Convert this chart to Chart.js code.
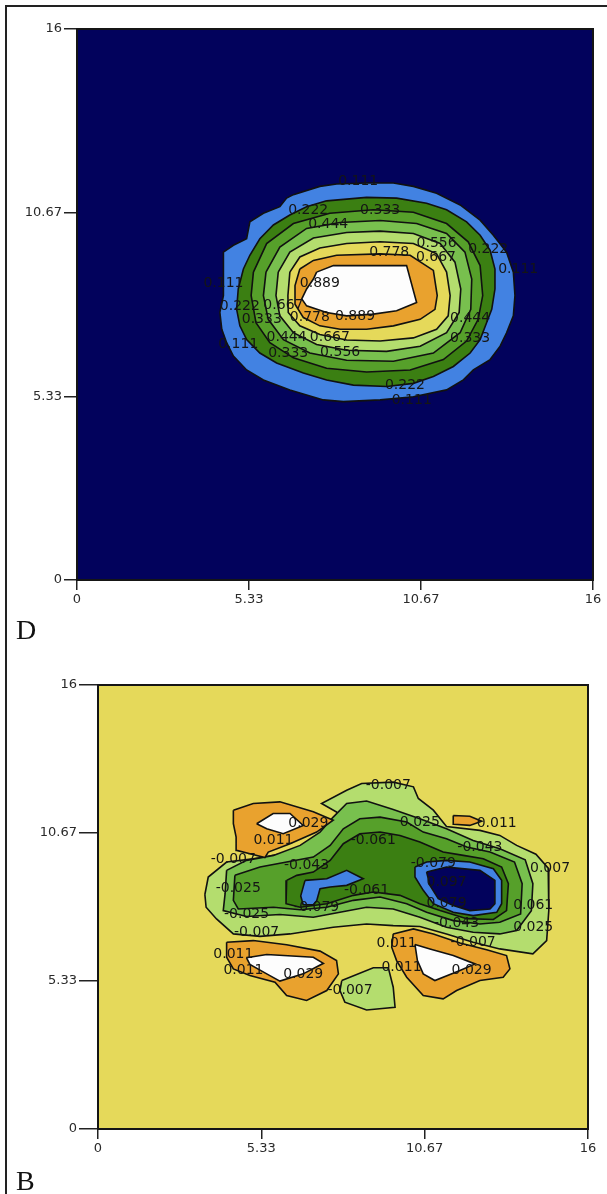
<!DOCTYPE html>
<html>
<head>
<meta charset="utf-8">
<script src="https://cdn.jsdelivr.net/npm/chart.js@4.4.0/dist/chart.umd.min.js"></script>
<style>
  body { margin: 0; background: #fff; width: 607px; height: 1194px; position: relative; overflow: hidden; }
  .frame { position: absolute; left: 5px; top: 5px; width: 620px; height: 1220px; border-left: 2px solid #222; border-top: 2px solid #222; }
  canvas { position: absolute; left: 0; }
  .tag { position: absolute; left: 16px; font: 28px "Liberation Serif", serif; color: #111; line-height: 32px; }
</style>
</head>
<body>
<div class="frame"></div>
<canvas id="chartD" width="607" height="620" style="top:0"></canvas>
<canvas id="chartB" width="607" height="529" style="top:640px"></canvas>
<div class="tag" style="top:614px">D</div>
<div class="tag" style="top:1165px">B</div>
<script>
// axis ticks (both panels)
const tickValues = [0, 5.333, 10.667, 16];
const tickLabels = ['0', '5.33', '10.67', '16'];

// panel D contour boundaries [x, y]
const dRing111 = [[6.71,11.19],[7.53,11.43],[8.05,11.50],[8.98,11.53],[9.81,11.53],[10.43,11.43],[11.15,11.23],[11.88,10.89],[12.50,10.45],[12.91,10.01],[13.32,9.52],[13.53,8.94],[13.58,8.26],[13.53,7.67],[13.32,7.18],[13.12,6.79],[12.81,6.40],[12.29,6.10],[11.98,5.81],[11.46,5.52],[10.43,5.32],[9.40,5.23],[8.26,5.18],[7.64,5.23],[6.60,5.52],[5.78,5.81],[5.26,6.10],[4.85,6.50],[4.64,6.89],[4.49,7.28],[4.43,7.77],[4.54,8.26],[4.54,8.74],[4.54,9.52],[4.85,9.72],[5.26,9.91],[5.36,10.40],[5.78,10.65],[6.29,10.84],[6.50,11.09]];
const dRing222 = [[7.74,11.01],[8.98,11.11],[9.91,11.09],[10.84,10.94],[11.46,10.75],[12.08,10.40],[12.50,10.01],[12.81,9.57],[12.96,9.03],[12.96,8.45],[12.86,7.86],[12.70,7.47],[12.50,6.98],[12.19,6.59],[11.67,6.20],[11.05,5.91],[10.43,5.71],[9.60,5.62],[8.57,5.66],[7.74,5.81],[7.02,6.01],[6.19,6.30],[5.67,6.59],[5.26,6.98],[5.05,7.38],[4.95,7.86],[5.00,8.45],[5.16,9.03],[5.36,9.43],[5.67,9.91],[6.09,10.31],[6.60,10.60],[7.12,10.84]];
const dRing333 = [[5.47,8.94],[5.88,9.77],[6.71,10.35],[7.84,10.65],[9.19,10.75],[10.43,10.68],[11.46,10.35],[12.13,9.82],[12.50,9.13],[12.58,8.26],[12.44,7.57],[12.08,6.94],[11.36,6.40],[10.33,6.10],[8.98,6.04],[7.74,6.15],[6.71,6.45],[5.98,6.89],[5.55,7.47],[5.40,8.26]];
const dRing444 = [[5.86,8.94],[6.29,9.67],[7.12,10.21],[8.16,10.38],[9.40,10.44],[10.53,10.35],[11.46,10.06],[12.03,9.52],[12.24,8.74],[12.21,7.86],[11.88,7.18],[11.05,6.59],[9.81,6.35],[8.36,6.38],[7.22,6.59],[6.40,6.98],[5.93,7.57],[5.78,8.26]];
const dRing556 = [[6.24,8.94],[6.60,9.52],[7.33,9.93],[8.36,10.09],[9.40,10.13],[10.43,10.06],[11.26,9.77],[11.72,9.23],[11.90,8.45],[11.85,7.77],[11.46,7.18],[10.64,6.79],[9.60,6.64],[8.36,6.67],[7.43,6.84],[6.71,7.18],[6.29,7.67],[6.17,8.26]];
const dRing667 = [[6.60,8.94],[6.91,9.38],[7.53,9.64],[8.36,9.77],[9.40,9.82],[10.43,9.77],[11.15,9.47],[11.46,8.94],[11.57,8.26],[11.51,7.67],[11.15,7.28],[10.43,7.03],[9.40,6.94],[8.36,6.97],[7.53,7.13],[6.91,7.38],[6.55,7.77],[6.54,8.26]];
const dRing778 = [[6.91,9.03],[7.33,9.28],[8.05,9.43],[9.40,9.47],[10.33,9.43],[11.05,8.99],[11.17,8.26],[11.10,7.86],[10.64,7.57],[9.81,7.38],[8.98,7.28],[8.16,7.28],[7.53,7.38],[7.02,7.62],[6.76,8.01],[6.76,8.55]];
const dRing889 = [[7.43,8.94],[7.95,9.13],[10.22,9.13],[10.53,8.06],[9.91,7.82],[9.19,7.72],[8.36,7.67],[7.74,7.77],[7.12,7.96],[6.97,8.16],[7.12,8.45],[7.33,8.74]];

const dLabels = [
  ['0.111', 8.72, 11.58], ['0.222', 7.17, 10.72], ['0.333', 9.40, 10.72], ['0.444', 7.79, 10.33],
  ['0.556', 11.15, 9.77], ['0.222', 12.75, 9.60], ['0.778', 9.68, 9.50], ['0.667', 11.13, 9.38],
  ['0.111', 13.68, 9.02], ['0.111', 4.54, 8.60], ['0.889', 7.53, 8.62], ['0.222', 5.05, 7.94],
  ['0.667', 6.40, 7.98], ['0.333', 5.73, 7.57], ['0.778', 7.22, 7.62], ['0.889', 8.62, 7.65],
  ['0.444', 12.19, 7.59], ['0.333', 12.19, 7.01], ['0.444', 6.50, 7.06], ['0.667', 7.84, 7.06],
  ['0.111', 5.00, 6.84], ['0.333', 6.55, 6.59], ['0.556', 8.16, 6.61], ['0.222', 10.17, 5.66],
  ['0.111', 10.38, 5.23]
];

// panel B contour boundaries [x, y]
const bRingM007 = [[3.49,8.45],[3.60,9.08],[4.20,9.62],[5.40,9.78],[6.49,10.04],[7.36,10.46],[7.85,10.94],[7.79,11.42],[7.30,11.73],[8.12,12.21],[8.61,12.45],[9.64,12.50],[10.30,12.33],[10.46,11.91],[10.95,11.49],[11.38,10.90],[12.47,10.76],[13.12,10.58],[13.67,10.22],[14.30,9.90],[14.70,9.40],[14.72,7.87],[14.65,6.79],[14.20,6.31],[13.12,6.49],[12.25,6.73],[11.38,7.03],[10.51,7.30],[9.64,7.33],[8.77,7.39],[7.68,7.27],[6.27,7.03],[5.29,6.94],[4.42,7.03],[3.87,7.57],[3.53,7.99]];
const bRingM007b = [[7.96,5.35],[8.99,5.81],[9.48,5.81],[9.64,5.11],[9.70,4.39],[8.77,4.29],[8.06,4.57],[7.90,4.99]];
const bRingM025 = [[4.20,9.32],[4.15,8.48],[4.09,7.87],[4.85,7.66],[5.94,7.73],[7.03,7.63],[7.90,7.81],[8.77,7.99],[9.64,7.93],[10.51,7.63],[11.38,7.27],[12.25,7.09],[13.12,7.03],[13.67,7.15],[14.15,7.87],[14.20,8.84],[13.95,9.70],[13.12,10.10],[12.25,10.40],[11.38,10.82],[10.51,11.18],[9.64,11.51],[8.77,11.82],[8.12,11.73],[7.68,11.24],[7.25,10.70],[6.60,10.22],[5.73,9.86],[4.85,9.68]];
const bRingM043 = [[4.47,9.14],[4.42,8.24],[4.58,7.93],[5.73,7.99],[6.60,7.90],[7.47,7.99],[8.34,8.24],[9.21,8.36],[10.08,8.12],[10.73,7.81],[11.60,7.51],[12.47,7.39],[13.12,7.45],[13.80,7.75],[13.85,8.84],[13.60,9.62],[12.80,9.98],[12.04,10.16],[11.38,10.46],[10.62,10.70],[10.08,11.06],[9.21,11.24],[8.55,11.18],[8.01,10.82],[7.58,10.22],[7.03,9.80],[6.16,9.62],[5.29,9.44]];
const bRingM061 = [[6.16,8.96],[6.14,8.12],[6.60,7.99],[7.47,8.12],[8.34,8.42],[8.99,8.54],[9.86,8.42],[10.51,8.12],[11.17,7.87],[12.04,7.58],[12.91,7.55],[13.34,7.87],[13.40,8.84],[13.18,9.44],[12.58,9.74],[11.93,9.86],[11.27,9.98],[10.51,10.34],[9.86,10.58],[9.21,10.70],[8.55,10.64],[8.01,10.28],[7.58,9.68],[7.03,9.26],[6.49,9.14]];
const bRingM079a = [[6.76,8.96],[7.47,9.02],[8.12,9.32],[8.66,9.02],[8.12,8.78],[7.58,8.72],[7.25,8.66],[7.14,8.22],[7.03,8.08],[6.70,8.08],[6.62,8.40]];
const bRingM079b = [[10.35,9.44],[10.73,9.62],[11.38,9.68],[12.14,9.62],[12.91,9.38],[13.18,8.96],[13.18,8.12],[13.02,7.81],[12.25,7.69],[11.60,7.81],[10.95,8.12],[10.62,8.60],[10.35,9.08]];
const bRingM097 = [[10.73,9.26],[11.38,9.44],[12.47,9.32],[12.96,8.96],[12.96,8.12],[12.80,7.93],[12.14,7.87],[11.60,8.05],[11.11,8.30],[10.84,8.78]];
const bRing011a = [[4.42,11.49],[5.07,11.73],[5.94,11.79],[7.03,11.43],[7.68,11.13],[7.14,10.70],[6.27,10.28],[5.56,9.98],[5.45,9.78],[4.96,9.92],[4.53,10.04],[4.51,10.52],[4.42,11.00]];
const bRing011b = [[11.60,11.30],[12.14,11.27],[12.53,11.09],[12.14,10.94],[11.62,10.98]];
const bRing011c = [[4.20,6.73],[5.07,6.79],[6.16,6.64],[7.25,6.41],[7.79,6.07],[7.85,5.59],[7.47,4.99],[6.81,4.63],[6.16,4.81],[5.78,5.29],[4.96,5.53],[4.42,5.77],[4.20,6.19]];
const bRing011d = [[9.64,7.03],[10.30,7.21],[10.95,7.03],[11.82,6.70],[12.69,6.46],[13.34,6.25],[13.45,5.77],[13.23,5.47],[12.47,5.35],[11.71,4.99],[11.27,4.69],[10.62,4.81],[10.08,5.47],[9.75,6.07],[9.59,6.55]];
const bRing029a = [[5.18,11.00],[5.72,11.37],[6.27,11.37],[6.70,10.94],[6.05,10.64],[5.51,10.82]];
const bRing029b = [[4.85,6.17],[5.51,6.29],[7.03,6.19],[7.36,5.97],[6.70,5.59],[5.94,5.33],[5.51,5.59],[4.96,5.93]];
const bRing029c = [[10.35,6.65],[10.84,6.49],[11.60,6.25],[12.31,5.95],[11.82,5.71],[11.00,5.35],[10.62,5.59],[10.43,6.07]];

const bLabels = [
  ['-0.007', 9.48, 12.39], ['0.029', 6.87, 11.03], ['0.011', 5.73, 10.40], ['0.025', 10.51, 11.06],
  ['0.011', 13.02, 11.03], ['-0.061', 8.99, 10.40], ['-0.043', 12.47, 10.14], ['-0.007', 4.42, 9.70],
  ['-0.043', 6.81, 9.50], ['-0.079', 10.95, 9.56], ['0.007', 14.76, 9.38], ['0.097', 11.38, 8.90],
  ['-0.025', 4.58, 8.66], ['-0.061', 8.77, 8.60], ['0.061', 14.21, 8.06], ['-0.025', 4.85, 7.73],
  ['-0.079', 7.14, 7.99], ['0.079', 11.38, 8.12], ['-0.043', 11.71, 7.42], ['0.025', 14.21, 7.27],
  ['-0.007', 5.18, 7.09], ['0.011', 9.75, 6.70], ['-0.007', 12.25, 6.73], ['0.011', 4.42, 6.31],
  ['0.011', 4.75, 5.71], ['0.029', 6.70, 5.59], ['0.011', 9.91, 5.83], ['0.029', 12.20, 5.71],
  ['-0.007', 8.23, 4.99]
];

const C = {
  navy: '#02025c', blue: '#4282e2', dkgreen: '#3b7f12', mdgreen: '#56a02a',
  green: '#78c04e', ltgreen: '#b4dd6e', yellow: '#e5d95a', orange: '#e9a22e', white: '#fdfdfd'
};

function ring(points, color, order) {
  const data = points.map(([x, y]) => ({ x, y }));
  data.push(data[0]);
  return {
    data, showLine: true, fill: 'shape', backgroundColor: color,
    borderColor: '#111', borderWidth: 1.6, pointRadius: 0, tension: 0, order
  };
}

function contourPlugin(bg, labels) {
  return {
    id: 'contour',
    beforeDatasetsDraw(chart) {
      const { ctx, chartArea: a } = chart;
      ctx.save();
      ctx.fillStyle = bg;
      ctx.fillRect(a.left, a.top, a.right - a.left, a.bottom - a.top);
      ctx.restore();
    },
    afterDatasetsDraw(chart) {
      const { ctx, chartArea: a, scales: { x, y } } = chart;
      ctx.save();
      ctx.font = '14px "DejaVu Sans"';
      ctx.fillStyle = '#151515';
      ctx.textAlign = 'center';
      ctx.textBaseline = 'middle';
      labels.forEach(([t, lx, ly]) => ctx.fillText(t, x.getPixelForValue(lx), y.getPixelForValue(ly)));
      ctx.strokeStyle = '#151515';
      ctx.lineWidth = 2;
      ctx.strokeRect(a.left, a.top, a.right - a.left, a.bottom - a.top);
      ctx.restore();
    }
  };
}

function axis(pos, size, tickLen) {
  return {
    type: 'linear', position: pos, min: 0, max: 16,
    afterBuildTicks: s => { s.ticks = tickValues.map(v => ({ value: v })); },
    afterFit: s => { if (pos === 'left') s.width = size; else s.height = size; },
    grid: { drawOnChartArea: false, drawTicks: true, tickLength: tickLen, color: '#222', lineWidth: 1.5 },
    border: { display: false },
    ticks: {
      callback: (v, i) => tickLabels[i], color: '#2a2a2a', padding: 2,
      font: { family: 'DejaVu Sans', size: 13 }, maxRotation: 0, autoSkip: false
    }
  };
}

function makeChart(id, rings, bg, labels, padding, yWidth, yTick) {
  new Chart(document.getElementById(id), {
    type: 'scatter',
    data: { datasets: rings.map(([pts, col], i) => ring(pts, col, -i)) },
    options: {
      responsive: false, animation: false, devicePixelRatio: 1, events: [],
      layout: { padding },
      plugins: { legend: { display: false }, tooltip: { enabled: false } },
      scales: { x: axis('bottom', 40, 10), y: axis('left', yWidth, yTick) }
    },
    plugins: [contourPlugin(bg, labels)]
  });
}

makeChart('chartD', [
  [dRing111, C.blue], [dRing222, C.dkgreen], [dRing333, C.mdgreen], [dRing444, C.green],
  [dRing556, C.ltgreen], [dRing667, C.yellow], [dRing778, C.orange], [dRing889, C.white]
], C.navy, dLabels, { left: 0, top: 29, right: 14, bottom: 0 }, 77, 13);

makeChart('chartB', [
  [bRingM007, C.ltgreen], [bRingM007b, C.ltgreen], [bRingM025, C.green], [bRingM043, C.mdgreen],
  [bRingM061, C.dkgreen], [bRingM079a, C.blue], [bRingM079b, C.blue], [bRingM097, C.navy],
  [bRing011a, C.orange], [bRing011b, C.orange], [bRing011c, C.orange], [bRing011d, C.orange],
  [bRing029a, C.white], [bRing029b, C.white], [bRing029c, C.white]
], C.yellow, bLabels, { left: 0, top: 45, right: 19, bottom: 0 }, 98, 19);
</script>
</body>
</html>
